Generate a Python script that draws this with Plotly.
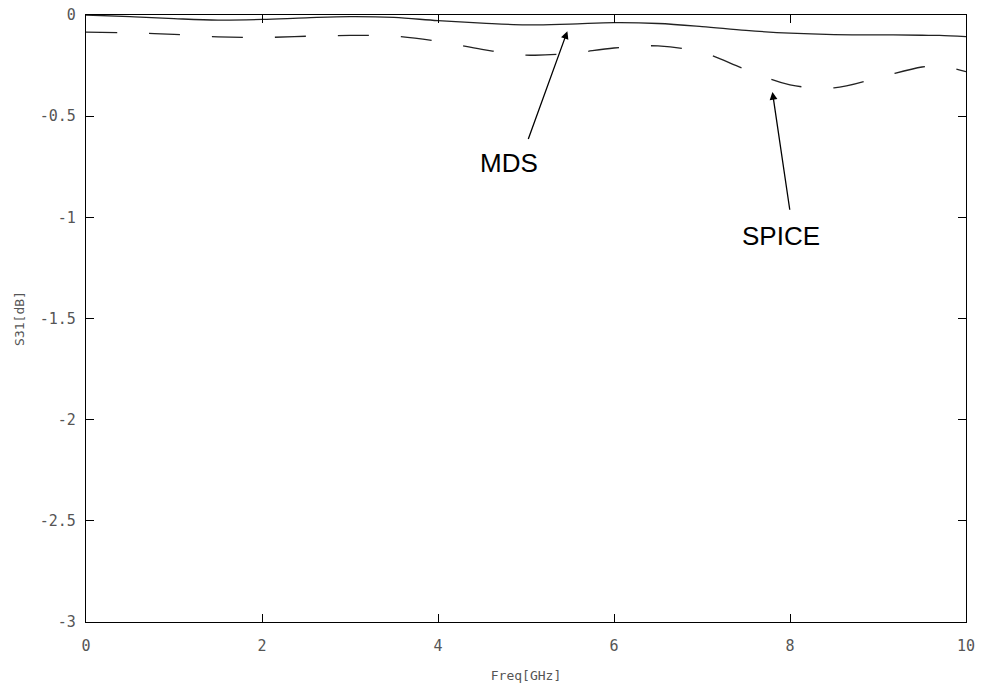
import plotly.graph_objects as go

freq = [0, 0.5, 1.0, 1.5, 2.0, 2.5, 3.0, 3.5, 4.0, 4.5, 5.0, 5.5, 6.0, 6.5, 7.0, 7.5, 8.0, 8.5, 9.0, 9.5, 9.7, 10.0]
mds = [0.0, -0.008, -0.018, -0.025, -0.022, -0.014, -0.008, -0.012, -0.028, -0.040, -0.049, -0.045,
       -0.038, -0.042, -0.057, -0.076, -0.090, -0.097, -0.098, -0.100, -0.101, -0.107]
spice = [-0.085, -0.088, -0.096, -0.108, -0.111, -0.105, -0.101, -0.104, -0.130, -0.170, -0.198, -0.190,
         -0.163, -0.153, -0.185, -0.270, -0.345, -0.360, -0.310, -0.257, -0.252, -0.280]

x_ticks = [0, 2, 4, 6, 8, 10]
y_ticks = [0, -0.5, -1, -1.5, -2, -2.5, -3]
y_tick_text = ["0", "-0.5", "-1", "-1.5", "-2", "-2.5", "-3"]

fig = go.Figure()
fig.add_trace(go.Scatter(x=freq, y=mds, mode="lines", name="MDS",
                         line=dict(color="#222", width=1.3, shape="spline", smoothing=1.0)))
fig.add_trace(go.Scatter(x=freq, y=spice, mode="lines", name="SPICE",
                         line=dict(color="#222", width=1.3, shape="spline", smoothing=1.0, dash="31px,32px")))

tickfont = dict(family="DejaVu Sans Mono", size=15, color="#555")
axis_common = dict(showgrid=False, zeroline=False, showline=True, linecolor="black", linewidth=1.2,
                   mirror="ticks", ticks="inside", ticklen=8, tickcolor="black", tickwidth=1.2,
                   tickfont=tickfont, automargin=False)

fig.update_xaxes(range=[0, 10], tickvals=x_ticks, ticktext=[str(v) for v in x_ticks],
                 ticklabelstandoff=10,
                 title=dict(text="Freq[GHz]", font=dict(family="DejaVu Sans Mono", size=13, color="#555"), standoff=16),
                 **axis_common)
fig.update_yaxes(range=[-3, 0], tickvals=y_ticks, ticktext=y_tick_text,
                 ticklabelstandoff=6,
                 title=dict(text="S31[dB]", font=dict(family="DejaVu Sans Mono", size=13, color="#555"), standoff=12),
                 **axis_common)

annotations = [
    dict(x=5.47, y=-0.08, ax=5.02, ay=-0.62, xref="x", yref="y", axref="x", ayref="y",
         text="", showarrow=True, arrowhead=2, arrowsize=1.2, arrowwidth=1.3, arrowcolor="black"),
    dict(x=7.80, y=-0.38, ax=8.00, ay=-0.97, xref="x", yref="y", axref="x", ayref="y",
         text="", showarrow=True, arrowhead=2, arrowsize=1.2, arrowwidth=1.3, arrowcolor="black"),
    dict(x=4.81, y=-0.73, xref="x", yref="y", text="MDS", showarrow=False,
         font=dict(family="Liberation Sans", size=26, color="black")),
    dict(x=7.90, y=-1.09, xref="x", yref="y", text="SPICE", showarrow=False,
         font=dict(family="Liberation Sans", size=26, color="black")),
]

fig.update_layout(width=981, height=690, margin=dict(l=86, r=15, t=15, b=68, autoexpand=False),
                  paper_bgcolor="white", plot_bgcolor="white", showlegend=False,
                  annotations=annotations)

fig.write_html("out.html")
